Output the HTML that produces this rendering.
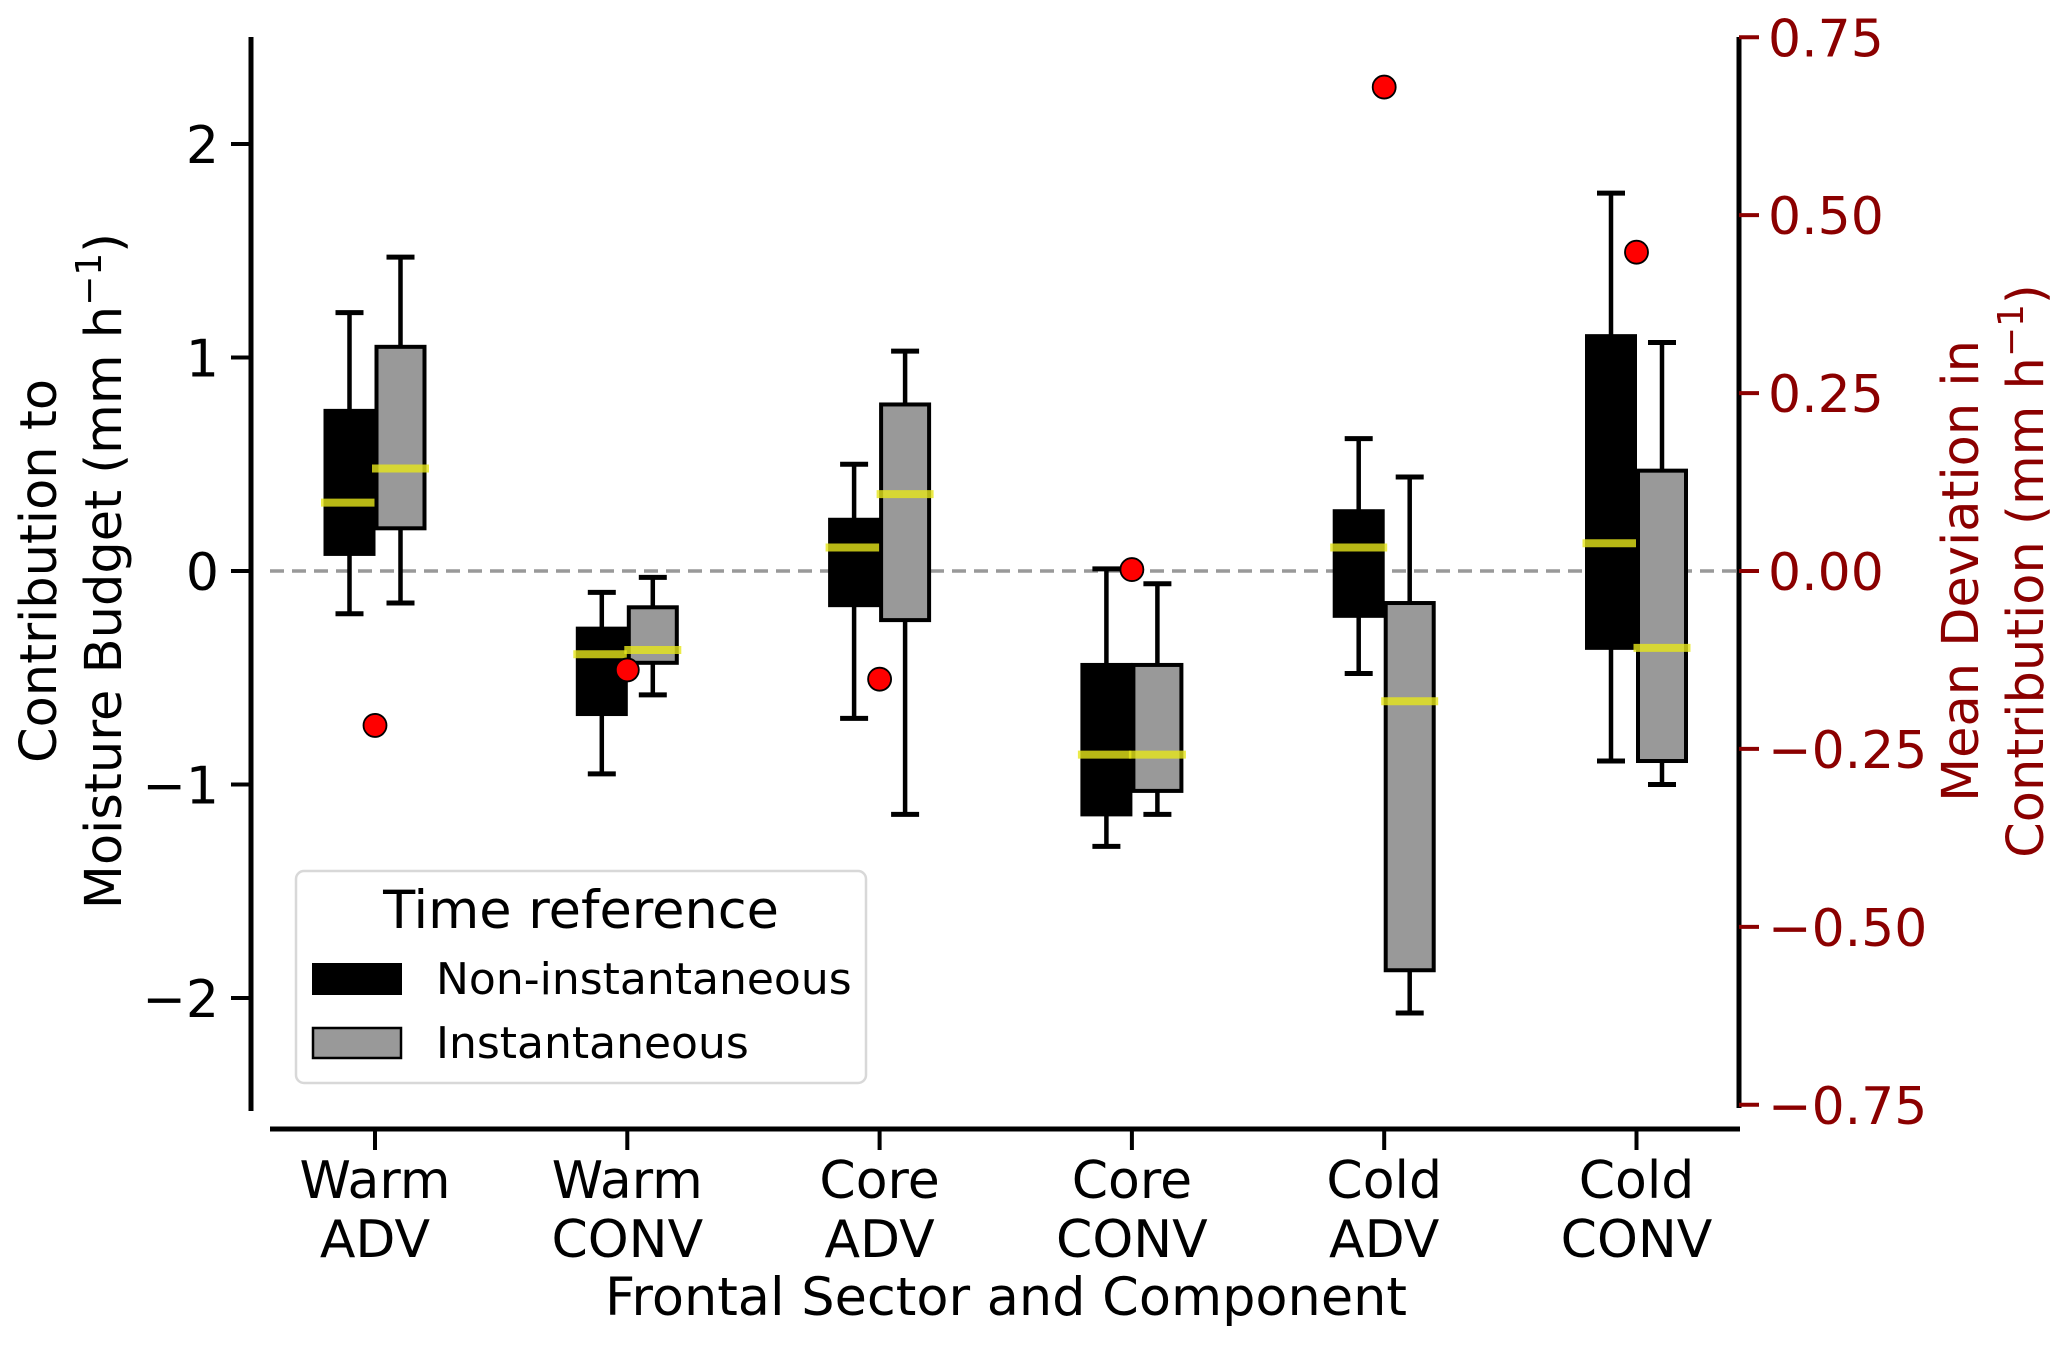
<!DOCTYPE html>
<html><head><meta charset="utf-8"><style>
html,body{margin:0;padding:0;background:#fff;}
svg{display:block;font-family:"DejaVu Sans","Liberation Sans",sans-serif;}
</style></head><body>
<svg id="chart" width="2067" height="1345" viewBox="0 0 2067 1345" xmlns="http://www.w3.org/2000/svg">
<g id="plot"></g>
</svg>
<script>
const categories = [["Warm","ADV"],["Warm","CONV"],["Core","ADV"],["Core","CONV"],["Cold","ADV"],["Cold","CONV"]];
// [whiskerLow, q1, median, q3, whiskerHigh]
const nonInst = [
 [-0.20,0.08,0.32,0.75,1.21],
 [-0.95,-0.67,-0.39,-0.27,-0.10],
 [-0.69,-0.16,0.11,0.24,0.50],
 [-1.29,-1.14,-0.86,-0.44,0.01],
 [-0.48,-0.21,0.11,0.28,0.62],
 [-0.89,-0.36,0.13,1.10,1.77]
];
const inst = [
 [-0.15,0.20,0.48,1.05,1.47],
 [-0.58,-0.43,-0.37,-0.17,-0.03],
 [-1.14,-0.23,0.36,0.78,1.03],
 [-1.14,-1.03,-0.86,-0.44,-0.06],
 [-2.07,-1.87,-0.61,-0.15,0.44],
 [-1.00,-0.89,-0.36,0.47,1.07]
];
const meanDev = [-0.217,-0.139,-0.152,0.002,0.680,0.448];
const leftTicks = [2,1,0,-1,-2];
const rightTicks = [0.75,0.50,0.25,0.00,-0.25,-0.50,-0.75];
const rightTickLabels = ["0.75","0.50","0.25","0.00","\u22120.25","\u22120.50","\u22120.75"];

const NS="http://www.w3.org/2000/svg";
const g=document.getElementById('plot');
const Y0=571, UNIT=213.5, RUNIT=UNIT*2.5/0.75;
const yL=v=>Y0-v*UNIT;
const yR=v=>Y0-v*RUNIT;
const X0=375, DX=252.3;
const xC=i=>X0+i*DX;
const HALF=51;
function el(tag,attrs,parent){const e=document.createElementNS(NS,tag);for(const k in attrs)e.setAttribute(k,attrs[k]);(parent||g).appendChild(e);return e;}

const zl=el('line',{x1:270,x2:1740,y1:yL(0),y2:yL(0),stroke:'#999',"stroke-width":3.5,"stroke-dasharray":"14,8"});



function drawBox(d,cx,fill,name){
  const grp=el('g',{});
  
  
  el('line',{x1:cx,x2:cx,y1:yL(d[0]),y2:yL(d[1]),stroke:'#000',"stroke-width":4.5},grp);
  el('line',{x1:cx,x2:cx,y1:yL(d[3]),y2:yL(d[4]),stroke:'#000',"stroke-width":4.5},grp);
  el('line',{x1:cx-14,x2:cx+14,y1:yL(d[0]),y2:yL(d[0]),stroke:'#000',"stroke-width":5},grp);
  el('line',{x1:cx-14,x2:cx+14,y1:yL(d[4]),y2:yL(d[4]),stroke:'#000',"stroke-width":5},grp);
  el('rect',{x:cx-HALF/2+1.5,y:yL(d[3]),width:HALF-3,height:yL(d[1])-yL(d[3]),fill:fill,stroke:'#000',"stroke-width":4},grp);
  el('line',{x1:cx-HALF/2-3,x2:cx+HALF/2+3,y1:yL(d[2]),y2:yL(d[2]),stroke:'#e6e61a',"stroke-opacity":0.8,"stroke-width":8},grp);
}
for(let i=0;i<categories.length;i++){
  drawBox(nonInst[i],xC(i)-HALF/2,'#000','box-noninstantaneous-'+i);
  drawBox(inst[i],xC(i)+HALF/2,'#999','box-instantaneous-'+i);
}
for(let i=0;i<meanDev.length;i++){
  const c=el('circle',{cx:xC(i),cy:yR(meanDev[i]),r:11.5,fill:'#ff0000',stroke:'#000',"stroke-width":1.8});
  
  
}
const la=el('line',{x1:251,x2:251,y1:37,y2:1111,stroke:'#000',"stroke-width":5});


leftTicks.forEach(v=>{
  el('line',{x1:231,x2:251,y1:yL(v),y2:yL(v),stroke:'#000',"stroke-width":4});
  const t=el('text',{x:219,y:yL(v)+19,"text-anchor":"end","font-size":52,fill:'#000'});
  t.textContent=v<0?'\u2212'+(-v):String(v);
  
  
});
const ra=el('line',{x1:1739,x2:1739,y1:37,y2:1108,stroke:'#000',"stroke-width":5});


rightTicks.forEach((v,i)=>{
  el('line',{x1:1739,x2:1759,y1:yR(v),y2:yR(v),stroke:'#8b0000',"stroke-width":4});
  const t=el('text',{x:1768,y:yR(v)+19,"font-size":52,fill:'#8b0000'});
  t.textContent=rightTickLabels[i];
  
  
});
const ba=el('line',{x1:270,x2:1740,y1:1129,y2:1129,stroke:'#000',"stroke-width":5});


categories.forEach((c,i)=>{
  el('line',{x1:xC(i),x2:xC(i),y1:1129,y2:1150,stroke:'#000',"stroke-width":4});
  const t=el('text',{x:xC(i),y:1198,"text-anchor":"middle","font-size":52,fill:'#000'});
  t.textContent=c[0];
  
  
  const t2=el('text',{x:xC(i),y:1257,"text-anchor":"middle","font-size":52,fill:'#000'});
  t2.textContent=c[1];
  
  
});
</script>
<svg style="position:absolute;left:0;top:0" width="2067" height="1345" xmlns="http://www.w3.org/2000/svg" font-family="DejaVu Sans, Liberation Sans, sans-serif">
<text x="1006" y="1315" text-anchor="middle" font-size="52.5">Frontal Sector and Component</text>
<g transform="translate(56,571) rotate(-90)">
<text x="0" y="0" text-anchor="middle" font-size="51">Contribution to</text>
<text x="0" y="65" text-anchor="middle" font-size="51">Moisture Budget (mm h<tspan font-size="36" dy="-20">−1</tspan><tspan dy="20">)</tspan></text>
</g>
<g fill="#8b0000" transform="translate(1978,571) rotate(-90)">
<text x="0" y="0" text-anchor="middle" font-size="51">Mean Deviation in</text>
<text x="0" y="65" text-anchor="middle" font-size="51">Contribution (mm h<tspan font-size="36" dy="-20">−1</tspan><tspan dy="20">)</tspan></text>
</g>
<g>
<rect x="296" y="871" width="570" height="212" rx="8" fill="#fff" fill-opacity="0.85" stroke="#d8d8d8" stroke-width="2.5"/>
<text x="581" y="928" text-anchor="middle" font-size="52.5">Time reference</text>
<rect x="313" y="964" width="88" height="30" fill="#000" stroke="#000" stroke-width="2"/>
<text x="436" y="994" font-size="44">Non-instantaneous</text>
<rect x="313" y="1028" width="88" height="30" fill="#999" stroke="#000" stroke-width="2.5"/>
<text x="436" y="1058" font-size="44">Instantaneous</text>
</g>
</svg>
</body></html>
